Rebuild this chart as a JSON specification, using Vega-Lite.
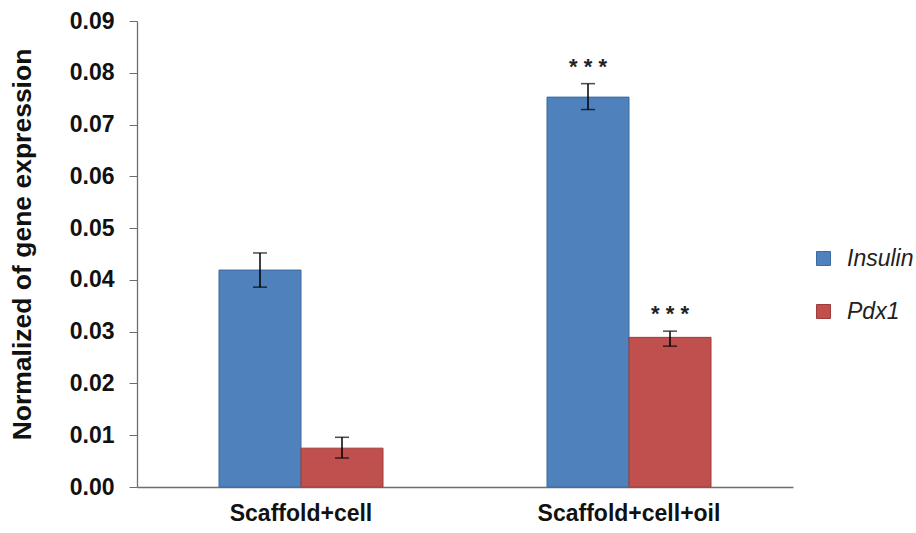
{
  "$schema": "https://vega.github.io/schema/vega-lite/v6.json",
  "width": 656,
  "height": 466,
  "autosize": "none",
  "padding": {"left": 137, "top": 21, "right": 123, "bottom": 46},
  "background": "white",
  "config": {"view": {"stroke": null}, "font": "Liberation Sans"},
  "data": {
    "values": [
      {"group": "Scaffold+cell", "gene": "Insulin", "value": 0.0419, "lo": 0.0386, "hi": 0.0452, "sig": ""},
      {"group": "Scaffold+cell", "gene": "Pdx1", "value": 0.0075, "lo": 0.0056, "hi": 0.0096, "sig": ""},
      {"group": "Scaffold+cell+oil", "gene": "Insulin", "value": 0.0753, "lo": 0.0729, "hi": 0.0779, "sig": "* * *"},
      {"group": "Scaffold+cell+oil", "gene": "Pdx1", "value": 0.0289, "lo": 0.0272, "hi": 0.0301, "sig": "* * *"}
    ]
  },
  "encoding": {
    "x": {
      "field": "group", "type": "nominal",
      "scale": {"paddingInner": 0, "paddingOuter": 0},
      "axis": {
        "title": null, "labelAngle": 0, "ticks": false, "labelPadding": 15, "labelLimit": 0,
        "labelFont": "Liberation Sans", "labelFontWeight": "bold", "labelFontSize": 23,
        "labelColor": "#111111", "domainColor": "#6e6e6e", "domainWidth": 1.3
      }
    },
    "xOffset": {"field": "gene", "type": "nominal", "scale": {"paddingInner": 0, "paddingOuter": 1}}
  },
  "layer": [
    {
      "mark": {"type": "bar", "strokeWidth": 1},
      "encoding": {
        "y": {
          "field": "value", "type": "quantitative",
          "scale": {"domain": [0, 0.09], "nice": false},
          "axis": {
            "title": "Normalized of gene expression",
            "titleFont": "Liberation Sans", "titleFontSize": 26.5, "titleFontWeight": "bold",
            "titleColor": "#111111", "titleX": -101, "titleY": 223, "titleAngle": -90,
            "titleBaseline": "bottom", "titleAlign": "center",
            "values": [0, 0.01, 0.02, 0.03, 0.04, 0.05, 0.06, 0.07, 0.08, 0.09],
            "format": ".2f", "grid": false,
            "labelFont": "Liberation Sans", "labelFontWeight": "bold", "labelFontSize": 23,
            "labelColor": "#111111", "labelPadding": 15,
            "tickSize": 8, "tickColor": "#6e6e6e", "domainColor": "#6e6e6e", "domainWidth": 1.3
          }
        },
        "color": {
          "field": "gene", "type": "nominal",
          "scale": {"domain": ["Insulin", "Pdx1"], "range": ["#4F81BD", "#C0504D"]},
          "legend": {
            "title": null, "orient": "none", "legendX": 675, "legendY": 226, "padding": 0,
            "symbolType": "square", "symbolSize": 196, "symbolStrokeWidth": 1,
            "rowPadding": 29, "labelFontSize": 23, "labelFont": "Liberation Sans", "labelLimit": 0,
            "labelFontStyle": "italic", "labelColor": "#222222", "labelOffset": 12
          }
        },
        "stroke": {
          "field": "gene", "type": "nominal",
          "scale": {"domain": ["Insulin", "Pdx1"], "range": ["#3C6B9F", "#9E3C3A"]},
          "legend": null
        }
      }
    },
    {
      "mark": {"type": "rule", "color": "black", "strokeWidth": 1.5},
      "encoding": {
        "y": {"field": "lo", "type": "quantitative"},
        "y2": {"field": "hi"}
      }
    },
    {
      "mark": {"type": "tick", "color": "black", "thickness": 1.5, "size": 14, "orient": "horizontal"},
      "encoding": {"y": {"field": "lo", "type": "quantitative"}}
    },
    {
      "mark": {"type": "tick", "color": "black", "thickness": 1.5, "size": 14, "orient": "horizontal"},
      "encoding": {"y": {"field": "hi", "type": "quantitative"}}
    },
    {
      "mark": {"type": "text", "baseline": "alphabetic", "dy": -10, "fontSize": 22, "fontWeight": "bold", "font": "Liberation Sans", "color": "#222222"},
      "encoding": {
        "y": {"field": "hi", "type": "quantitative"},
        "text": {"field": "sig"}
      }
    }
  ]
}
